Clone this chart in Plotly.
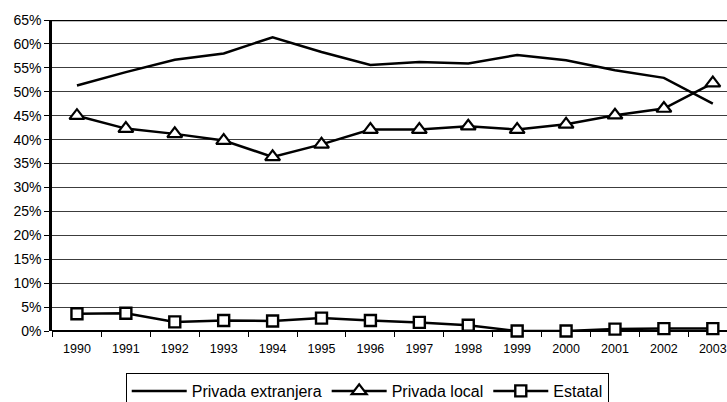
import plotly.graph_objects as go

years = ["1990", "1991", "1992", "1993", "1994", "1995", "1996",
         "1997", "1998", "1999", "2000", "2001", "2002", "2003"]

privada_extranjera = [51.3, 54.1, 56.7, 58.0, 61.4, 58.3, 55.6,
                      56.2, 55.9, 57.7, 56.6, 54.5, 52.9, 47.5]
privada_local = [45.0, 42.3, 41.2, 39.8, 36.4, 39.0, 42.1,
                 42.1, 42.8, 42.1, 43.2, 45.1, 46.5, 51.8]
estatal = [3.6, 3.7, 1.9, 2.2, 2.1, 2.7, 2.2,
           1.8, 1.2, 0.0, 0.0, 0.4, 0.5, 0.5]

y_ticks = list(range(0, 70, 5))
y_labels = [f"{v}%" for v in y_ticks]

FONT = "Liberation Sans, Arial, sans-serif"

fig = go.Figure()
fig.add_trace(go.Scatter(
    x=years, y=privada_extranjera, name="Privada extranjera",
    mode="lines", line=dict(color="black", width=2.5), cliponaxis=False,
))
fig.add_trace(go.Scatter(
    x=years, y=privada_local, name="Privada local",
    mode="lines+markers", line=dict(color="black", width=2.5),
    marker=dict(symbol="triangle-up", size=13, color="white",
                line=dict(color="black", width=2.2)),
    cliponaxis=False,
))
fig.add_trace(go.Scatter(
    x=years, y=estatal, name="Estatal",
    mode="lines+markers", line=dict(color="black", width=2.5),
    marker=dict(symbol="square", size=11, color="white",
                line=dict(color="black", width=2.4)),
    cliponaxis=False,
))

# heavy frame line along the top of the plot area
fig.add_shape(type="line", xref="paper", yref="y", x0=0, x1=1, y0=65, y1=65,
              line=dict(color="black", width=2.5), layer="above")

fig.update_layout(
    width=727, height=402,
    margin=dict(l=52, r=0, t=20, b=71, autoexpand=False),
    paper_bgcolor="white", plot_bgcolor="white",
    font=dict(family=FONT, color="black"),
    showlegend=True,
    legend=dict(
        orientation="h", x=0.467, xanchor="center", y=-0.135, yanchor="top",
        bordercolor="black", borderwidth=1, font=dict(size=16, family=FONT),
        itemwidth=55, tracegroupgap=0,
    ),
    xaxis=dict(
        type="category", range=[-0.51, 13.29],
        showgrid=False, zeroline=False,
        showline=False,
        ticks="outside", tickson="boundaries", ticklen=5,
        tickcolor="black", tickwidth=1,
        ticklabelstandoff=8,
        tickfont=dict(size=12.5, family=FONT),
    ),
    yaxis=dict(
        range=[0, 65], tickvals=y_ticks, ticktext=y_labels,
        showgrid=True, gridcolor="#3c3c3c", gridwidth=1,
        zeroline=True, zerolinecolor="black", zerolinewidth=2,
        showline=True, linecolor="black", linewidth=2.5,
        ticks="outside", ticklen=5, tickcolor="black", tickwidth=1,
        tickfont=dict(size=14, family=FONT),
    ),
)

fig.write_html("out.html")
